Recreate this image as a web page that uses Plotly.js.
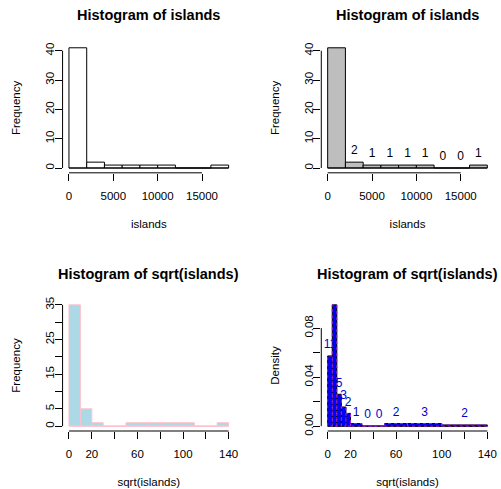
<!DOCTYPE html>
<html>
<head>
<meta charset="utf-8">
<script src="https://cdn.plot.ly/plotly-3.0.1.min.js"></script>
<style>
html,body{margin:0;padding:0;background:#fff;}
#chart{width:501px;height:489px;}
</style>
</head>
<body>
<div id="chart"></div>
<script>
// ---- data ----
const breaksA = [0, 2000, 4000, 6000, 8000, 10000, 12000, 14000, 16000, 18000];
const countsA = [41, 2, 1, 1, 1, 1, 0, 0, 1];
const breaksB = [0, 10, 20, 30, 40, 50, 60, 70, 80, 90, 100, 110, 120, 130, 140];
const countsB = [35, 5, 1, 0, 0, 1, 1, 1, 1, 1, 1, 0, 0, 1];
const breaksC = [0, 4, 8, 12, 16, 20, 30, 40, 50, 70, 100, 140];
const countsC = [11, 19, 5, 3, 2, 1, 0, 0, 2, 3, 2];
const densityC = [0.0573, 0.0990, 0.0260, 0.0156, 0.0104, 0.0021, 0, 0, 0.0021, 0.0021, 0.0010];

const xTicksA = [0, 5000, 10000, 15000];
const xTickTextA = ['0', '5000', '10000', '15000'];
const yTicksA = [0, 10, 20, 30, 40];
const yTickTextA = ['0', '10', '20', '30', '40'];
const xTicksB = [0, 20, 40, 60, 80, 100, 120, 140];
const xTickTextB = ['0', '20', '', '60', '', '100', '', '140'];
const yTicksB = [0, 5, 10, 15, 20, 25, 30, 35];
const yTickTextB = ['0', '5', '', '15', '', '25', '', '35'];
const yTicksC = [0, 0.02, 0.04, 0.06, 0.08];
const yTickTextC = ['0.00', '', '0.04', '', '0.08'];

const titles = ['Histogram of islands', 'Histogram of islands', 'Histogram of sqrt(islands)', 'Histogram of sqrt(islands)'];
const xTitles = ['islands', 'islands', 'sqrt(islands)', 'sqrt(islands)'];
const yTitles = ['Frequency', 'Frequency', 'Frequency', 'Density'];

// ---- helpers ----
const mids = b => b.slice(0, -1).map((v, i) => (v + b[i + 1]) / 2);
const widths = b => b.slice(0, -1).map((v, i) => b[i + 1] - v);
function outline(b, h) {
  const xs = [], ys = [];
  for (let i = 0; i < h.length; i++) {
    xs.push(b[i], b[i], b[i + 1], b[i + 1], b[i], null);
    ys.push(0, h[i], h[i], 0, 0, null);
  }
  return {x: xs, y: ys};
}

const FONT = 'Liberation Sans, Arial, Helvetica, sans-serif';
const traces = [];

function histTraces(b, h, fill, border, xa, ya) {
  traces.push({
    type: 'bar', x: mids(b), y: h, width: widths(b), xaxis: xa, yaxis: ya,
    marker: {color: fill, line: {color: border, width: 1}}, hoverinfo: 'skip', showlegend: false
  });
  traces.push({
    type: 'scatter', mode: 'lines', x: [b[0], b[b.length - 1]], y: [0, 0], xaxis: xa, yaxis: ya,
    line: {color: border, width: 1}, hoverinfo: 'skip', showlegend: false, cliponaxis: false
  });
}
function labelTrace(b, h, labels, color, xa, ya) {
  traces.push({
    type: 'scatter', mode: 'markers+text', x: mids(b), y: h, text: labels.map(String),
    marker: {size: 6, opacity: 0},
    textposition: 'top center', textfont: {family: FONT, size: 12, color: color},
    xaxis: xa, yaxis: ya, hoverinfo: 'skip', showlegend: false, cliponaxis: true
  });
}

histTraces(breaksA, countsA, '#FFFFFF', '#000000', 'x', 'y');
histTraces(breaksA, countsA, '#BEBEBE', '#000000', 'x2', 'y2');
labelTrace(breaksA, countsA, countsA, '#000000', 'x2', 'y2');
histTraces(breaksB, countsB, '#ADD8E6', '#FFC0CB', 'x3', 'y3');
histTraces(breaksC, densityC, '#0000FF', '#000000', 'x4', 'y4');
const ol = outline(breaksC, densityC);
traces.push({
  type: 'scatter', mode: 'lines', x: ol.x, y: ol.y, xaxis: 'x4', yaxis: 'y4',
  line: {color: '#A020F0', width: 1, dash: 'dot'}, hoverinfo: 'skip', showlegend: false, connectgaps: false
});
labelTrace(breaksC, densityC, countsC, '#0000CD', 'x4', 'y4');

const domX = [[0.1249, 0.4691], [0.6413, 0.9854]];
const domY = [[0.6466, 0.9121], [0.1186, 0.3865]];

function xaxis(i, range, tv, tt, dom, ya) {
  return {
    domain: dom, range: range, anchor: ya, tickmode: 'array', tickvals: tv, ticktext: tt,
    ticks: 'outside', ticklen: 7, tickwidth: 1, tickcolor: '#000', ticklabelstandoff: 5,
    showline: false, zeroline: false, showgrid: false, fixedrange: true,
    tickfont: {family: FONT, size: 11.5, color: '#000'},
    title: {text: xTitles[i], font: {family: FONT, size: 11.5, color: '#000'}, standoff: 19}
  };
}
function yaxis(i, range, tv, tt, dom, xa) {
  return {
    domain: dom, range: range, anchor: xa, tickmode: 'array', tickvals: tv, ticktext: tt,
    ticks: 'outside', ticklen: 7, tickwidth: 1, tickcolor: '#000', tickangle: -90, ticklabelstandoff: -4,
    showline: false, zeroline: false, showgrid: false, fixedrange: true,
    tickfont: {family: FONT, size: 11.5, color: '#000'},
    title: {text: yTitles[i], font: {family: FONT, size: 11.5, color: '#000'}, standoff: 20}
  };
}

const rA = [-720, 18720], yrA = [-1.64, 42.64];
const rB = [-5.6, 145.6], yrB = [-1.4, 36.4], yrC = [-0.00396, 0.10296];

const layout = {
  width: 501, height: 489, margin: {l: 0, r: 0, t: 0, b: 0},
  paper_bgcolor: '#FFFFFF', plot_bgcolor: 'rgba(0,0,0,0)',
  font: {family: FONT, color: '#000'}, showlegend: false, bargap: 0,
  xaxis: xaxis(0, rA, xTicksA, xTickTextA, domX[0], 'y'),
  yaxis: yaxis(0, yrA, yTicksA, yTickTextA, domY[0], 'x'),
  xaxis2: xaxis(1, rA, xTicksA, xTickTextA, domX[1], 'y2'),
  yaxis2: yaxis(1, yrA, yTicksA, yTickTextA, domY[0], 'x2'),
  xaxis3: xaxis(2, rB, xTicksB, xTickTextB, domX[0], 'y3'),
  yaxis3: yaxis(2, yrB, yTicksB, yTickTextB, domY[1], 'x3'),
  xaxis4: xaxis(3, rB, xTicksB, xTickTextB, domX[1], 'y4'),
  yaxis4: yaxis(3, yrC, yTicksC, yTickTextC, domY[1], 'x4'),
  shapes: [], annotations: []
};

// R-style axis lines spanning only the tick range, plus panel titles
const axes = [
  ['x', 'y', xTicksA, yTicksA], ['x2', 'y2', xTicksA, yTicksA],
  ['x3', 'y3', xTicksB, yTicksB], ['x4', 'y4', xTicksB, yTicksC]
];
axes.forEach(([xa, ya, xt, yt], i) => {
  layout.shapes.push({type: 'line', xref: xa, yref: ya + ' domain', x0: xt[0], x1: xt[xt.length - 1], y0: 0, y1: 0,
    line: {color: '#000', width: 1}});
  layout.shapes.push({type: 'line', xref: xa + ' domain', yref: ya, x0: 0, x1: 0, y0: yt[0], y1: yt[yt.length - 1],
    line: {color: '#000', width: 1}});
  layout.annotations.push({text: '<b>' + titles[i] + '</b>', xref: xa + ' domain', yref: ya + ' domain',
    x: 0.5, y: 1, yshift: i < 2 ? 28 : 26, xanchor: 'center', yanchor: 'middle', showarrow: false,
    font: {family: FONT, size: 14.5, color: '#000'}});
});

Plotly.newPlot('chart', traces, layout, {displayModeBar: false, staticPlot: true});
</script>
</body>
</html>
